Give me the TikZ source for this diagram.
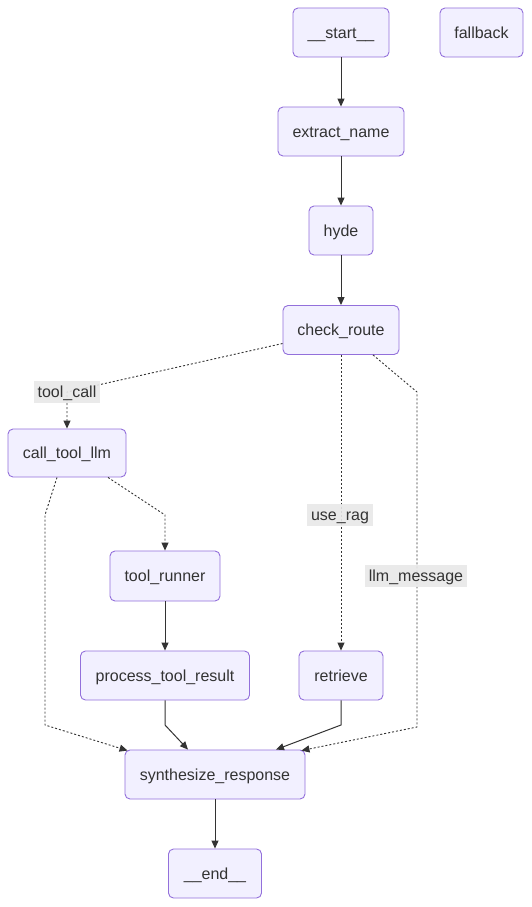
\documentclass[tikz,border=0pt]{standalone}
\usepackage{fontspec}
\setmainfont{Liberation Sans}
\usetikzlibrary{arrows.meta}
\definecolor{nodefill}{HTML}{F2F0FF}
\definecolor{nodeline}{HTML}{9370DB}
\definecolor{edgecol}{HTML}{333333}
\definecolor{lblfill}{HTML}{E8E8E8}
\begin{document}
\begin{tikzpicture}[x=1pt,y=-1pt,
  box/.style={draw=nodeline, fill=nodefill, line width=0.9pt, rounded corners=5pt,
    minimum height=49pt, inner sep=0pt, text height=14.5pt, text depth=3.4pt,
    font=\fontsize{16}{19}\selectfont, text=edgecol},
  solidedge/.style={draw=edgecol, line width=1pt, -{Triangle[length=8pt,width=7pt]}},
  dotedge/.style={draw=edgecol, line width=0.9pt, dash pattern=on 2pt off 2pt,
    -{Triangle[length=8pt,width=7pt]}},
  lbl/.style={fill=lblfill, fill opacity=0.9, text opacity=1, text=edgecol, inner xsep=4pt,
    inner ysep=0pt, minimum height=22pt, text height=14.5pt, text depth=3.4pt,
    font=\fontsize{16}{19}\selectfont}]
\useasboundingbox (0,0) rectangle (532,907);
\fill[white] (0,0) rectangle (532,907);

\node[box, minimum width=96pt] (start) at (341,32.5) {\_\_start\_\_};
\node[box, minimum width=83pt] (fallback) at (481.5,32.5) {fallback};
\node[box, minimum width=126pt] (extract) at (341,131.5) {extract\_name};
\node[box, minimum width=64pt] (hyde) at (341,230.5) {hyde};
\node[box, minimum width=116pt] (cr) at (341,330) {check\_route};
\node[box, minimum width=118pt, minimum height=48pt] (ctl) at (67,453) {call\_tool\_llm};
\node[box, minimum width=110pt, minimum height=50pt] (tr) at (165,576) {tool\_runner};
\node[box, minimum width=169pt] (ptr) at (165,675.5) {process\_tool\_result};
\node[box, minimum width=84pt] (ret) at (341,675.5) {retrieve};
\node[box, minimum width=180pt] (syn) at (215,774.5) {synthesize\_response};
\node[box, minimum width=93pt] (end) at (215,873.5) {\_\_end\_\_};

% solid edges
\draw[solidedge] (start) -- (extract);
\draw[solidedge] (extract) -- (hyde);
\draw[solidedge] (hyde) -- (cr);
\draw[solidedge] (tr) -- (ptr);
\draw[solidedge] (ptr.south) -- (165,725) -- ([xshift=-27pt]syn.north);
\draw[solidedge] (ret.south) -- (341,725) -- ([xshift=61pt]syn.north);
\draw[solidedge] (syn) -- (end);

% dotted edges
\draw[dotedge] (cr.193) -- (67,392) -- (ctl.north);
\node[lbl] (l1) at (67,392) {tool\_call};

\draw[dotedge] (cr.south) -- (ret.north);
\node[lbl] (l2) at (340,515) {use\_rag};

\draw[dotedge] ([xshift=32pt]cr.south) -- (417,392) -- (417,727) -- ([xshift=-4pt,yshift=-1pt]syn.north east);
\node[lbl] (l3) at (416,576) {llm\_message};

\draw[dotedge] ([xshift=41pt]ctl.south) -- (165,515) -- (tr.north);
\draw[dotedge] ([xshift=-10pt]ctl.south) -- (45,515) -- (45,725) -- ([xshift=3pt,yshift=-1pt]syn.north west);
\end{tikzpicture}
\end{document}
